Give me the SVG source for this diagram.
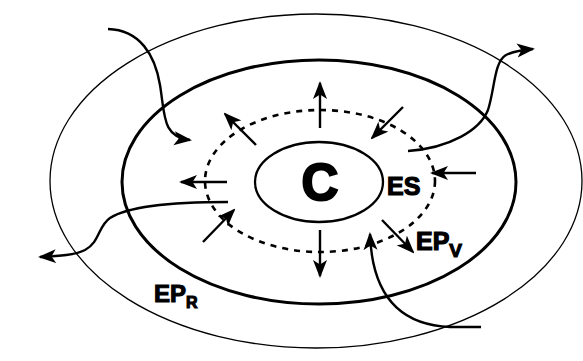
<svg xmlns="http://www.w3.org/2000/svg" width="583" height="361" viewBox="0 0 583 361">
<defs>
<marker id="ah" markerUnits="userSpaceOnUse" markerWidth="18" markerHeight="15" refX="16" refY="7.5" orient="auto">
<path d="M0,0.5 L18,7.5 L0,14.5 L4.5,7.5 z" fill="#000"/>
</marker>
<style>
.lbl{font-family:"Liberation Sans",Arial,sans-serif;font-weight:bold;fill:#000;stroke:#000}
.arr{fill:none;stroke:#000;stroke-width:2.4;marker-end:url(#ah)}
</style>
</defs>
<rect width="583" height="361" fill="#fff"/>
<g id="outer"><ellipse cx="316" cy="181" rx="266" ry="167" fill="none" stroke="#000" stroke-width="1.3"/></g>
<g id="EPR"><ellipse cx="319" cy="182" rx="197" ry="122" fill="none" stroke="#000" stroke-width="3"/>
<text class="lbl" x="154" y="302" font-size="24" stroke-width="1.1">EP<tspan font-size="16" dy="6">R</tspan></text></g>
<g id="ES"><ellipse cx="320" cy="181" rx="115" ry="71" fill="none" stroke="#000" stroke-width="2.6" stroke-dasharray="6,6"/>
<text class="lbl" x="387" y="195" font-size="25" stroke-width="1.2">ES</text></g>
<g id="EPV"><text class="lbl" x="416" y="250" font-size="25" stroke-width="1.2">EP<tspan font-size="19" dy="7">V</tspan></text></g>
<g id="C"><ellipse cx="319" cy="182" rx="64" ry="40" fill="none" stroke="#000" stroke-width="2.3"/>
<text class="lbl" x="320" y="200" font-size="51" text-anchor="middle" stroke-width="2.2">C</text></g>
<g id="connectors">
<path class="arr" d="M320,128 L320,83"/>
<path class="arr" d="M320,230 L320,276"/>
<path class="arr" d="M227,182 L181,182"/>
<path class="arr" d="M476,173 L432,173"/>
<path class="arr" d="M256,145 L225,114"/>
<path class="arr" d="M403,107 L372,138"/>
<path class="arr" d="M203,242 L234,210"/>
<path class="arr" d="M382,220 L413,252"/>
<path class="arr" d="M108,29 C140,30 155,55 160,85 C165,115 162,137 190,140"/>
<path class="arr" d="M408,151 C450,148 480,130 488,110 C495,88 494,62 506,55 C514,51 522,50 533,49"/>
<path class="arr" d="M228,202 C180,202 130,205 110,218 C98,226 100,242 85,250 C75,255 60,256 40,257"/>
<path class="arr" d="M481,327 L450,327 C400,325 372,295 370,234"/>
</g>
</svg>
